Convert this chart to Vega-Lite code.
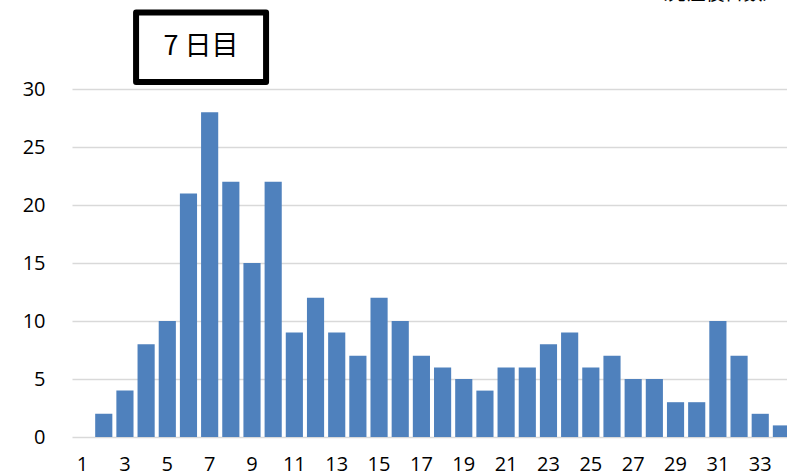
{
  "$schema": "https://vega.github.io/schema/vega-lite/v6.json",
  "autosize": "none",
  "width": 720,
  "height": 348,
  "padding": {"left": 72, "top": 89, "right": 0, "bottom": 39},
  "background": "white",
  "config": {"view": {"stroke": null}},
  "layer": [
    {
      "data": {"values": [
        {"day": 1, "count": 0}, {"day": 2, "count": 2}, {"day": 3, "count": 4}, {"day": 4, "count": 8},
        {"day": 5, "count": 10}, {"day": 6, "count": 21}, {"day": 7, "count": 28}, {"day": 8, "count": 22},
        {"day": 9, "count": 15}, {"day": 10, "count": 22}, {"day": 11, "count": 9}, {"day": 12, "count": 12},
        {"day": 13, "count": 9}, {"day": 14, "count": 7}, {"day": 15, "count": 12}, {"day": 16, "count": 10},
        {"day": 17, "count": 7}, {"day": 18, "count": 6}, {"day": 19, "count": 5}, {"day": 20, "count": 4},
        {"day": 21, "count": 6}, {"day": 22, "count": 6}, {"day": 23, "count": 8}, {"day": 24, "count": 9},
        {"day": 25, "count": 6}, {"day": 26, "count": 7}, {"day": 27, "count": 5}, {"day": 28, "count": 5},
        {"day": 29, "count": 3}, {"day": 30, "count": 3}, {"day": 31, "count": 10}, {"day": 32, "count": 7},
        {"day": 33, "count": 2}, {"day": 34, "count": 1}
      ]},
      "mark": {"type": "bar", "color": "#4f81bd"},
      "encoding": {
        "x": {
          "field": "day", "type": "ordinal",
          "scale": {"domain": [1,2,3,4,5,6,7,8,9,10,11,12,13,14,15,16,17,18,19,20,21,22,23,24,25,26,27,28,29,30,31,32,33,34], "paddingInner": 0.19, "paddingOuter": 0.095},
          "axis": {
            "title": null, "labelAngle": 0, "ticks": false, "domain": false,
            "labelExpr": "datum.value % 2 == 1 ? datum.label : ''",
            "labelFont": "Open Sans", "labelFontSize": 20, "labelColor": "#000000",
            "labelPadding": 17
          }
        },
        "y": {
          "field": "count", "type": "quantitative",
          "scale": {"domain": [0, 30], "nice": false},
          "axis": {
            "title": null, "values": [0,5,10,15,20,25,30], "ticks": false, "domain": false,
            "gridColor": "#d9d9d9", "gridWidth": 1.6,
            "labelFont": "Open Sans", "labelFontSize": 20, "labelColor": "#000000",
            "labelPadding": 27
          }
        }
      }
    },
    {
      "data": {"values": [{"day": 7, "pos": 33.6, "label": "7 日目"}]},
      "mark": {"type": "point", "shape": "M-1,-0.535H1V0.535H-1Z", "size": 16900, "filled": true, "fill": "white", "stroke": "black", "strokeWidth": 6, "strokeJoin": "round", "opacity": 1},
      "encoding": {
        "x": {"field": "day", "type": "ordinal", "bandPosition": 0},
        "y": {"field": "pos", "type": "quantitative"}
      }
    },
    {
      "data": {"values": [{"day": 7, "pos": 33.6, "label": "7 日目"}]},
      "mark": {"type": "text", "font": "Noto Sans CJK JP", "fontSize": 27, "color": "black", "align": "center", "baseline": "middle"},
      "encoding": {
        "x": {"field": "day", "type": "ordinal", "bandPosition": 0},
        "y": {"field": "pos", "type": "quantitative"},
        "text": {"field": "label"}
      }
    },
    {
      "data": {"values": [{"day": 34, "pos": 38.2, "label": "（発症後日数）"}]},
      "mark": {"type": "text", "font": "Noto Sans CJK JP", "fontSize": 19, "color": "black", "align": "right", "baseline": "middle"},
      "encoding": {
        "x": {"field": "day", "type": "ordinal", "bandPosition": 0.5},
        "y": {"field": "pos", "type": "quantitative"},
        "text": {"field": "label"}
      }
    }
  ]
}
